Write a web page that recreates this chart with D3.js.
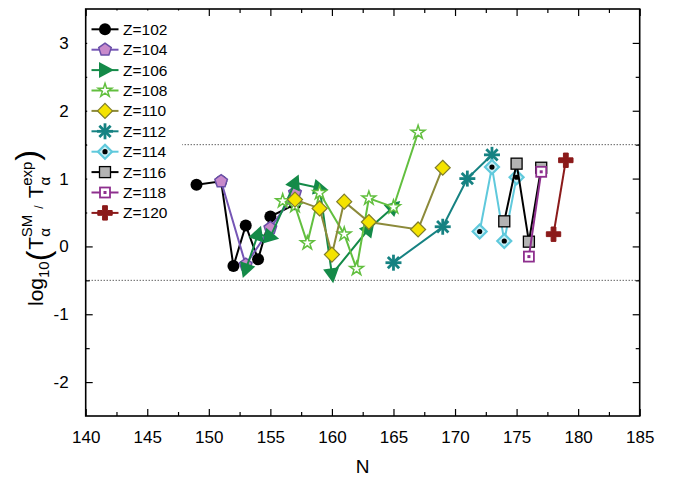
<!DOCTYPE html>
<html>
<head>
<meta charset="utf-8">
<script src="https://cdn.jsdelivr.net/npm/d3@7"></script>
<style>
  body { margin: 0; background: #fff; }
  svg { font-family: "Liberation Sans", Arial, sans-serif; }
</style>
</head>
<body>
<div id="chart"></div>
<script>
// data: neutron number N and log10(T_SM / T_exp)
const labels = ["Z=102", "Z=104", "Z=106", "Z=108", "Z=110", "Z=112", "Z=114", "Z=116", "Z=118", "Z=120"];
const z102N = [149, 151, 152, 153, 154, 155, 157];
const z102V = [0.91, 0.96, -0.29, 0.31, -0.19, 0.44, 0.62];
const z104N = [151, 153, 155, 157];
const z104V = [0.96, -0.27, 0.27, 0.79];
const z106N = [153, 154, 155, 157, 159, 160, 163, 165];
const z106V = [-0.34, 0.18, 0.14, 0.94, 0.86, -0.41, 0.26, 0.58];
const z108N = [156, 157, 158, 159, 161, 162, 163, 165, 167];
const z108V = [0.67, 0.6, 0.05, 0.79, 0.18, -0.33, 0.71, 0.58, 1.68];
const z110N = [157, 159, 160, 161, 163, 167, 169];
const z110V = [0.69, 0.56, -0.12, 0.66, 0.36, 0.25, 1.16];
const z112N = [165, 169, 171, 173];
const z112V = [-0.24, 0.29, 1.0, 1.35];
const z114N = [172, 173, 174, 175];
const z114V = [0.22, 1.17, 0.08, 1.02];
const z116N = [174, 175, 176, 177];
const z116V = [0.37, 1.22, 0.07, 1.16];
const z118N = [176, 177];
const z118V = [-0.15, 1.1];
const z120N = [178, 179];
const z120V = [0.18, 1.27];
const xTicks = [140, 145, 150, 155, 160, 165, 170, 175, 180, 185];
const yTicks = [-2, -1, 0, 1, 2, 3];
const refLines = [1.5, -0.5];

const allN = [z102N, z104N, z106N, z108N, z110N, z112N, z114N, z116N, z118N, z120N];
const allV = [z102V, z104V, z106V, z108V, z110V, z112V, z114V, z116V, z118V, z120V];
const shapes = ["circle", "pentagon", "triangle", "star", "diamond", "asterisk", "dotdiamond", "square", "dotsquare", "cross"];
const lineColors = ["#000000", "#7556b5", "#148a48", "#62bf3f", "#8c8a3a", "#168282", "#5fc9dc", "#000000", "#8e2f8e", "#8b1a1a"];

const W = 673, H = 482;
const mLeft = 85.7, mRight = 639.7, mTop = 9, mBottom = 416;

const svg = d3.select("#chart").append("svg")
    .attr("width", W)
    .attr("height", H);

const x = d3.scaleLinear().domain([140, 185]).range([mLeft, mRight]);
const y = d3.scaleLinear().domain([-2.5, 3.5]).range([mBottom, mTop]);

//dotted reference lines
svg.append("g")
    .selectAll("line")
    .data(refLines)
    .enter()
    .append("line")
        .attr("x1", mLeft)
        .attr("x2", mRight)
        .attr("y1", d => y(d))
        .attr("y2", d => y(d))
        .attr("stroke", "#000")
        .attr("stroke-width", 0.9)
        .attr("stroke-dasharray", "1,2");

//axes, ticks pointing inward on all four sides
const xMinor = d3.range(142.5, 185, 5);
const yMinor = [-1.5, -0.5, 0.5, 1.5, 2.5];

function styleAxis(g) {
    g.select(".domain").remove();
    g.selectAll("line").attr("stroke", "#000").attr("stroke-width", 1.2);
    g.selectAll("text").attr("font-size", 17).attr("fill", "#000");
}

svg.append("g")
    .attr("transform", "translate(0," + mBottom + ")")
    .call(d3.axisBottom(x).tickValues(xTicks).tickSize(-7).tickPadding(15).tickFormat(d3.format("d")))
    .call(styleAxis);
svg.append("g")
    .attr("transform", "translate(0," + mBottom + ")")
    .call(d3.axisBottom(x).tickValues(xMinor).tickSize(-4).tickFormat(""))
    .call(styleAxis);
svg.append("g")
    .attr("transform", "translate(0," + mTop + ")")
    .call(d3.axisTop(x).tickValues(xTicks).tickSize(-7).tickFormat(""))
    .call(styleAxis);
svg.append("g")
    .attr("transform", "translate(0," + mTop + ")")
    .call(d3.axisTop(x).tickValues(xMinor).tickSize(-4).tickFormat(""))
    .call(styleAxis);

svg.append("g")
    .attr("transform", "translate(" + mLeft + ",0)")
    .call(d3.axisLeft(y).tickValues(yTicks).tickSize(-7).tickPadding(17).tickFormat(d => String(d)))
    .call(styleAxis);
svg.append("g")
    .attr("transform", "translate(" + mLeft + ",0)")
    .call(d3.axisLeft(y).tickValues(yMinor).tickSize(-4).tickFormat(""))
    .call(styleAxis);
svg.append("g")
    .attr("transform", "translate(" + mRight + ",0)")
    .call(d3.axisRight(y).tickValues(yTicks).tickSize(-7).tickFormat(""))
    .call(styleAxis);
svg.append("g")
    .attr("transform", "translate(" + mRight + ",0)")
    .call(d3.axisRight(y).tickValues(yMinor).tickSize(-4).tickFormat(""))
    .call(styleAxis);

//marker drawing, one function for every symbol type
function drawMarker(g, shape, i, angle) {
    const c = lineColors[i];
    if (shape == "circle") {
        g.append("circle").attr("r", 6).attr("fill", "#000");
    }
    else if (shape == "pentagon") {
        const pts = d3.range(5).map(k => {
            const a = -Math.PI / 2 + k * 2 * Math.PI / 5;
            return [6.6 * Math.cos(a), 6.6 * Math.sin(a)];
        });
        g.append("polygon").attr("points", pts.join(" "))
            .attr("fill", "#c88acb").attr("stroke", "#6a4fa8").attr("stroke-width", 1.5);
    }
    else if (shape == "triangle") {
        g.append("polygon").attr("points", "9,0 -6,-8 -6,8")
            .attr("transform", "rotate(" + angle + ")")
            .attr("fill", c);
    }
    else if (shape == "star") {
        g.append("path").attr("d", d3.symbol(d3.symbolStar, 58)())
            .attr("fill", "#fff").attr("stroke", c).attr("stroke-width", 1.5);
    }
    else if (shape == "diamond") {
        g.append("polygon").attr("points", "0,-7.5 7.5,0 0,7.5 -7.5,0")
            .attr("fill", "#f4e300").attr("stroke", "#7f7d2a").attr("stroke-width", 1.2);
    }
    else if (shape == "asterisk") {
        [0, 45, 90, 135].forEach(a => {
            g.append("line").attr("x1", -8).attr("x2", 8)
                .attr("transform", "rotate(" + a + ")")
                .attr("stroke", c).attr("stroke-width", 2.8);
        });
    }
    else if (shape == "dotdiamond") {
        g.append("polygon").attr("points", "0,-7 7,0 0,7 -7,0")
            .attr("fill", "#c9eff6").attr("stroke", c).attr("stroke-width", 2.2);
        g.append("circle").attr("r", 2.6).attr("fill", "#000");
    }
    else if (shape == "square") {
        g.append("rect").attr("x", -5.5).attr("y", -5.5).attr("width", 11).attr("height", 11)
            .attr("fill", "#b3b3b3").attr("stroke", "#000").attr("stroke-width", 1.3);
    }
    else if (shape == "dotsquare") {
        g.append("rect").attr("x", -5).attr("y", -5).attr("width", 10).attr("height", 10)
            .attr("fill", "#fff").attr("stroke", c).attr("stroke-width", 1.8);
        g.append("rect").attr("x", -1.5).attr("y", -1.5).attr("width", 3).attr("height", 3)
            .attr("fill", c);
    }
    else {
        g.append("path").attr("d", d3.symbol(d3.symbolCross, 115)())
            .attr("fill", c).attr("stroke", c).attr("stroke-width", 1).attr("stroke-linejoin", "round");
    }
}

//lines and markers, series by series
const line = d3.line().x(d => x(d[0])).y(d => y(d[1]));

allN.forEach(function(ns, i) {
    const pts = ns.map((n, k) => [n, allV[i][k]]);
    const g = svg.append("g");
    g.append("path")
        .attr("d", line(pts))
        .attr("fill", "none")
        .attr("stroke", lineColors[i])
        .attr("stroke-width", 2);
    pts.forEach(function(p, k) {
        //triangles follow the direction of the segment that reaches them
        let angle = 0;
        if (shapes[i] == "triangle") {
            const a = k > 0 ? pts[k - 1] : pts[k + 1];
            const dx = x(p[0]) - x(a[0]), dy = y(p[1]) - y(a[1]);
            angle = Math.atan2(dy, dx) * 180 / Math.PI;
        }
        const m = g.append("g").attr("transform", "translate(" + x(p[0]) + "," + y(p[1]) + ")");
        drawMarker(m, shapes[i], i, angle);
    });
});

//legend with white background
const legend = svg.append("g");
legend.append("rect")
    .attr("x", mLeft + 1.5).attr("y", mTop + 1.5)
    .attr("width", 95).attr("height", 212)
    .attr("fill", "#fff");

labels.forEach(function(lab, i) {
    const ly = 29.3 + i * 20.4;
    legend.append("line")
        .attr("x1", 91.5).attr("x2", 118.5)
        .attr("y1", ly).attr("y2", ly)
        .attr("stroke", lineColors[i]).attr("stroke-width", 2);
    const m = legend.append("g").attr("transform", "translate(105," + ly + ")");
    drawMarker(m, shapes[i], i, 0);
    legend.append("text")
        .attr("x", 123).attr("y", ly + 5.5)
        .attr("font-size", 15.5)
        .text(lab);
});

//frame
svg.append("rect")
    .attr("x", mLeft).attr("y", mTop)
    .attr("width", mRight - mLeft).attr("height", mBottom - mTop)
    .attr("fill", "none")
    .attr("stroke", "#000")
    .attr("stroke-width", 1.6);

//axis titles
svg.append("text")
    .attr("x", (mLeft + mRight) / 2).attr("y", 473)
    .attr("text-anchor", "middle")
    .attr("font-size", 19)
    .text("N");

const yt = svg.append("text")
    .attr("transform", "translate(43,228) rotate(-90)")
    .attr("text-anchor", "middle")
    .attr("font-size", 21);
yt.append("tspan").text("log");
yt.append("tspan").attr("font-size", 15).attr("dy", 6).text("10");
yt.append("tspan").attr("font-size", 32).attr("dy", 0).text("(");
yt.append("tspan").attr("dy", -6).attr("dx", 1).text("T");
yt.append("tspan").attr("font-size", 15).attr("dy", 7).text("α");
yt.append("tspan").attr("font-size", 15).attr("dy", -18).attr("dx", -9).text("SM");
yt.append("tspan").attr("font-size", 12).attr("dy", 11).attr("dx", 6).text("/");
yt.append("tspan").attr("dy", 0).attr("dx", 7).text("T");
yt.append("tspan").attr("font-size", 15).attr("dy", 7).text("α");
yt.append("tspan").attr("font-size", 15).attr("dy", -18).attr("dx", -9).text("exp");
yt.append("tspan").attr("font-size", 32).attr("dy", 6).attr("dx", 1).text(")");
</script>
</body>
</html>
